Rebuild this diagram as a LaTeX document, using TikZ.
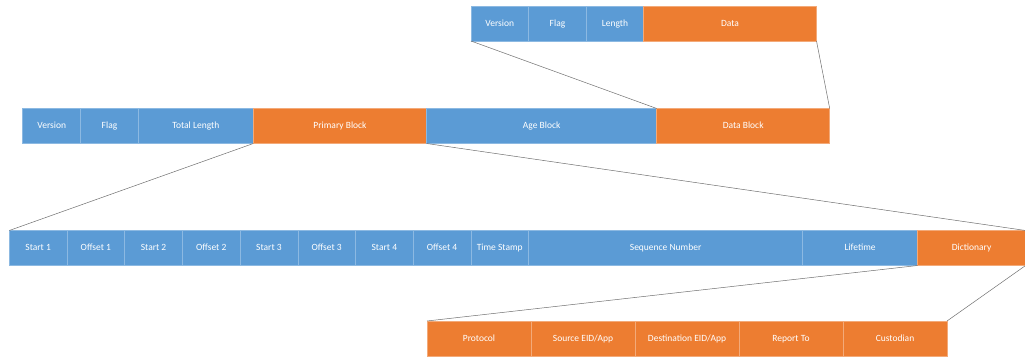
\documentclass[tikz,border=0pt]{standalone}
\usepackage{fontspec}
\setmainfont{Carlito}
\usetikzlibrary{positioning}

\definecolor{fieldblue}{HTML}{5B9BD5}
\definecolor{fieldorange}{HTML}{ED7D31}
\definecolor{zoomline}{HTML}{6E6E6E}

\tikzset{
    field/.style={rectangle, inner sep=0pt, outer sep=0pt, minimum height=35pt,
        text height=1.5ex, text depth=.3ex,
        text=white, font=\fontsize{9.5}{11}\selectfont, line width=0.5pt},
    bluefield/.style={field, fill=fieldblue, draw=fieldblue!70!white},
    orangefield/.style={field, fill=fieldorange, draw=fieldorange!65!white},
    zoom/.style={draw=zoomline, line width=0.5pt},
}

\begin{document}
\begin{tikzpicture}[x=1pt, y=-1pt, node distance=0pt]
        \useasboundingbox (0, 0) rectangle (1025, 358);

        % data block layout
        \node[bluefield, minimum width=57.5pt, anchor=north west] (dver) at (471, 6) {Version};
        \node[bluefield, minimum width=58pt, right=of dver] (dflag) {Flag};
        \node[bluefield, minimum width=57pt, right=of dflag] (dlen) {Length};
        \node[orangefield, minimum width=173pt, right=of dlen] (ddata) {Data};

        % bundle
        \node[bluefield, minimum width=58pt, anchor=north west] (ver) at (22.7, 108.5) {Version};
        \node[bluefield, minimum width=57.6pt, right=of ver] (flag) {Flag};
        \node[bluefield, minimum width=115pt, right=of flag] (total) {Total Length};
        \node[orangefield, minimum width=173.4pt, right=of total] (primary) {Primary Block};
        \node[bluefield, minimum width=230pt, right=of primary] (age) {Age Block};
        \node[orangefield, minimum width=173pt, right=of age] (datablk) {Data Block};

        % primary block layout
        \node[bluefield, minimum width=57.7pt, anchor=north west] (s1) at (9.3, 230.5) {Start 1};
        \node[bluefield, minimum width=57.7pt, right=of s1] (o1) {Offset 1};
        \node[bluefield, minimum width=57.7pt, right=of o1] (s2) {Start 2};
        \node[bluefield, minimum width=57.7pt, right=of s2] (o2) {Offset 2};
        \node[bluefield, minimum width=57.7pt, right=of o2] (s3) {Start 3};
        \node[bluefield, minimum width=57.7pt, right=of s3] (o3) {Offset 3};
        \node[bluefield, minimum width=57.7pt, right=of o3] (s4) {Start 4};
        \node[bluefield, minimum width=57.7pt, right=of s4] (o4) {Offset 4};
        \node[bluefield, minimum width=57.7pt, right=of o4] (stamp) {Time Stamp};
        \node[bluefield, minimum width=274pt, right=of stamp] (seq) {Sequence Number};
        \node[bluefield, minimum width=115pt, right=of seq] (life) {Lifetime};
        \node[orangefield, minimum width=108pt, right=of life] (dict) {Dictionary};

        % dictionary layout
        \node[orangefield, minimum width=104pt, anchor=north west] (proto) at (427, 321) {Protocol};
        \node[orangefield, minimum width=104pt, right=of proto] (src) {Source EID/App};
        \node[orangefield, minimum width=104pt, right=of src] (dst) {Destination EID/App};
        \node[orangefield, minimum width=104pt, right=of dst] (report) {Report To};
        \node[orangefield, minimum width=104pt, right=of report] (cust) {Custodian};

        % zoom lines
        \draw[zoom] (dver.south west) -- (datablk.north west);
        \draw[zoom] (ddata.south east) -- (datablk.north east);
        \draw[zoom] (primary.south west) -- (s1.north west);
        \draw[zoom] (primary.south east) -- (dict.north east);
        \draw[zoom] (dict.south west) -- (proto.north west);
        \draw[zoom] (dict.south east) -- (cust.north east);
    \end{tikzpicture}
\end{document}
